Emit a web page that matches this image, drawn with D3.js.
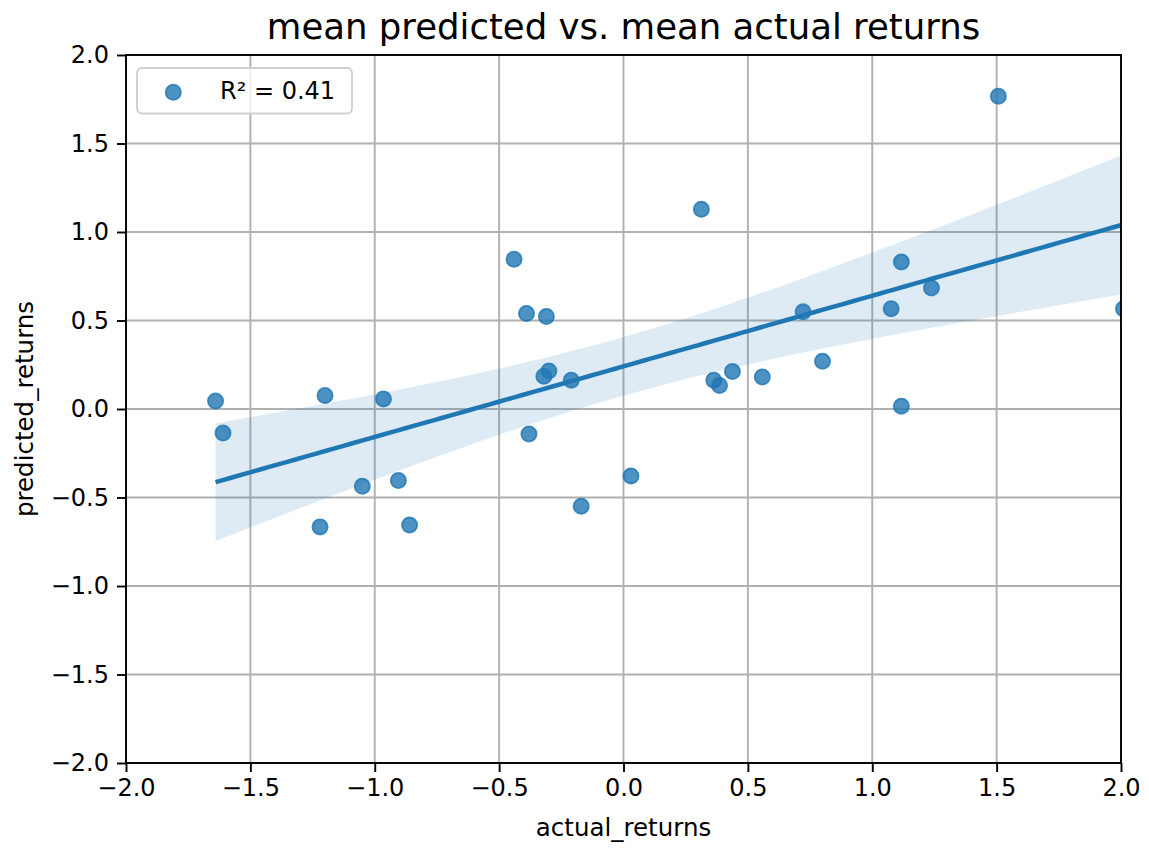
<!DOCTYPE html>
<html>
<head>
<meta charset="utf-8">
<script src="https://cdn.jsdelivr.net/npm/d3@7"></script>
<style>
  body { margin: 0; background: #fff; }
  text { font-family: "DejaVu Sans", sans-serif; }
</style>
</head>
<body>
<div id="chart"></div>
<script>
// values
const actualReturns = [-1.64, -1.61, -1.20, -0.965, -1.22, -1.05, -0.905, -0.86,
  -0.44, -0.39, -0.31, -0.32, -0.30, -0.21, -0.38, 0.03, -0.17,
  0.313, 0.363, 0.386, 0.438, 0.558, 0.722, 0.80, 1.117, 1.238, 1.076, 1.117, 1.507, 2.01];
const predictedReturns = [0.045, -0.136, 0.076, 0.057, -0.666, -0.436, -0.404, -0.656,
  0.846, 0.540, 0.523, 0.185, 0.215, 0.163, -0.141, -0.378, -0.549,
  1.128, 0.163, 0.133, 0.212, 0.181, 0.549, 0.270, 0.831, 0.684, 0.566, 0.016, 1.767, 0.566];
const tickValues = [-2.0, -1.5, -1.0, -0.5, 0.0, 0.5, 1.0, 1.5, 2.0];
const legendLabel = "R² = 0.41";
// fitted line as drawn in the reference (some data lies outside the view)
const fitSlope = 0.399;
const fitIntercept = 0.241;

const width = 1149, height = 848;
const margin = { top: 55, right: 28, bottom: 85, left: 126 };
const w = width - margin.left - margin.right;
const h = height - margin.top - margin.bottom;
const blue = "#1f77b4";

const svg = d3.select("#chart")
  .append("svg")
  .attr("width", width)
  .attr("height", height);

const g = svg.append("g")
  .attr("transform", "translate(" + margin.left + "," + margin.top + ")");

const x = d3.scaleLinear().domain([-2, 2]).range([0, w]);
const y = d3.scaleLinear().domain([-2, 2]).range([h, 0]);

g.append("clipPath").attr("id", "clip")
  .append("rect").attr("width", w).attr("height", h);

// grid
g.append("g").selectAll("line")
  .data(tickValues)
  .join("line")
  .attr("x1", d => x(d)).attr("x2", d => x(d))
  .attr("y1", 0).attr("y2", h)
  .attr("stroke", "#b0b0b0").attr("stroke-width", 1.9);
g.append("g").selectAll("line")
  .data(tickValues)
  .join("line")
  .attr("y1", d => y(d)).attr("y2", d => y(d))
  .attr("x1", 0).attr("x2", w)
  .attr("stroke", "#b0b0b0").attr("stroke-width", 1.9);

// 95% confidence band around the line
const n = actualReturns.length;
const mx = d3.mean(actualReturns);
const sxx = d3.sum(actualReturns, v => (v - mx) * (v - mx));
const sse = d3.sum(actualReturns, (v, i) => {
  const r = predictedReturns[i] - (fitIntercept + fitSlope * v);
  return r * r;
});
const s = Math.sqrt(sse / (n - 2));
const tCrit = 2.048;
const xMin = d3.min(actualReturns), xMax = d3.max(actualReturns);
const xs = d3.range(0, 101).map(i => xMin + (xMax - xMin) * i / 100);
const fit = xs.map(xv => {
  const yh = fitIntercept + fitSlope * xv;
  const se = s * Math.sqrt(1 / n + (xv - mx) * (xv - mx) / sxx);
  return { x: xv, y: yh, lo: yh - tCrit * se, hi: yh + tCrit * se };
});

const plot = g.append("g").attr("clip-path", "url(#clip)");

plot.append("path")
  .datum(fit)
  .attr("d", d3.area().x(d => x(d.x)).y0(d => y(d.lo)).y1(d => y(d.hi)))
  .attr("fill", blue).attr("fill-opacity", 0.15);

plot.selectAll("circle.pt")
  .data(actualReturns.map((d, i) => [d, predictedReturns[i]]))
  .join("circle")
  .classed("pt", true)
  .attr("cx", d => x(d[0])).attr("cy", d => y(d[1]))
  .attr("r", 7.6)
  .attr("fill", blue).attr("fill-opacity", 0.8)
  .attr("stroke", blue).attr("stroke-opacity", 0.8).attr("stroke-width", 1.8);

plot.append("path")
  .datum(fit)
  .attr("d", d3.line().x(d => x(d.x)).y(d => y(d.y)))
  .attr("fill", "none").attr("stroke", blue).attr("stroke-width", 4.5);

// axes
const fmt = d => d3.format(".1f")(d).replace("-", "\u2212");
const xAxis = g.append("g")
  .attr("transform", "translate(0," + h + ")")
  .call(d3.axisBottom(x).tickValues(tickValues).tickFormat(fmt).tickSizeInner(9).tickSizeOuter(0).tickPadding(7));
const yAxis = g.append("g")
  .call(d3.axisLeft(y).tickValues(tickValues).tickFormat(fmt).tickSizeInner(9).tickSizeOuter(0).tickPadding(8));
[xAxis, yAxis].forEach(a => {
  a.selectAll("text").attr("font-size", 24).attr("fill", "#000")
    .style("font-family", "DejaVu Sans, sans-serif");
  a.selectAll("line").attr("stroke", "#000").attr("stroke-width", 1.9);
  a.select(".domain").remove();
});

// frame
g.append("rect")
  .attr("width", w).attr("height", h)
  .attr("fill", "none").attr("stroke", "#000").attr("stroke-width", 1.9);

// labels
svg.append("text")
  .attr("x", margin.left + w / 2).attr("y", 39)
  .attr("text-anchor", "middle").attr("font-size", 35.5)
  .text("mean predicted vs. mean actual returns");
svg.append("text")
  .attr("x", margin.left + w / 2).attr("y", 836)
  .attr("text-anchor", "middle").attr("font-size", 24.5)
  .text("actual_returns");
svg.append("text")
  .attr("transform", "translate(33," + (margin.top + h / 2) + ") rotate(-90)")
  .attr("text-anchor", "middle").attr("font-size", 24.5)
  .text("predicted_returns");

// legend
const legend = g.append("g").attr("transform", "translate(11,13)");
legend.append("rect")
  .attr("width", 215).attr("height", 45.5).attr("rx", 5)
  .attr("fill", "#fff").attr("fill-opacity", 0.8)
  .attr("stroke", "#d0d0d0").attr("stroke-width", 1.9);
legend.append("circle")
  .attr("cx", 36.3).attr("cy", 24.3).attr("r", 7.6)
  .attr("fill", blue).attr("fill-opacity", 0.8)
  .attr("stroke", blue).attr("stroke-opacity", 0.8).attr("stroke-width", 1.8);
legend.append("text")
  .attr("x", 83).attr("y", 31).attr("font-size", 24)
  .text(legendLabel);
</script>
</body>
</html>
